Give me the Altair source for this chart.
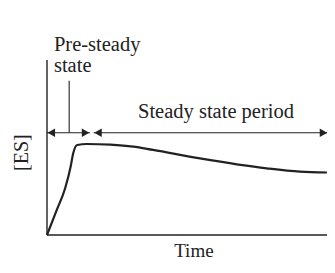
import altair as alt
import pandas as pd

# Curve values (time, [ES]), arbitrary units
time = [0, 3.4, 6.3, 8.2, 9.1, 10.5, 13.8, 22, 29.9, 36.8, 53.1, 76.3, 87.8, 97.2]
es = [0, 14.3, 26.7, 39, 46.7, 51.4, 52, 51.6, 50.5, 48.6, 43.8, 38.1, 36.2, 35.7]

# Line segments: axes, arrow shafts, pre-steady marker
seg_x1 = [0, 0, 0, 16.2, 7.7]
seg_x2 = [0, 100, 14.9, 97.5, 7.7]
seg_y1 = [0, 0, 58.4, 58.4, 58.4]
seg_y2 = [100, 0, 58.4, 58.4, 88.2]
seg_w = [1.4, 1.4, 1.1, 1.1, 1.1]

# Arrow heads (centres)
head_t = [1.5, 13.4, 17.7, 96.0]
head_y = [58.4, 58.4, 58.4, 58.4]
head_dir = ["l", "r", "l", "r"]

labels = ["Pre-steady", "state", "Steady state period"]
label_t = [2.4, 2.4, 31.6]
label_y = [105.3, 93.3, 66.9]

XDOM = [-13.54, 97.22]
YDOM = [-14.86, 129.7]
FONT = "Liberation Serif"

xs = alt.Scale(domain=XDOM, nice=False, zero=False)
ys = alt.Scale(domain=YDOM, nice=False, zero=False)

curve_df = pd.DataFrame({"ct": time, "ces": es})
curve = alt.Chart(curve_df).mark_line(color="#222", strokeWidth=2.2, interpolate="monotone").encode(
    x=alt.X("ct:Q", scale=xs, axis=None), y=alt.Y("ces:Q", scale=ys, axis=None))

seg_df = pd.DataFrame({"sx1": seg_x1, "sx2": seg_x2, "sy1": seg_y1, "sy2": seg_y2, "sw": seg_w})
segs = alt.Chart(seg_df).mark_rule(color="#222").encode(
    x=alt.X("sx1:Q", scale=xs, axis=None), x2="sx2:Q",
    y=alt.Y("sy1:Q", scale=ys, axis=None), y2="sy2:Q",
    strokeWidth=alt.StrokeWidth("sw:Q", scale=None))

head_df = pd.DataFrame({"ht": head_t, "hy": head_y, "hd": head_dir})
heads = alt.Chart(head_df).mark_point(filled=True, color="#222", size=75, opacity=1).encode(
    x=alt.X("ht:Q", scale=xs, axis=None), y=alt.Y("hy:Q", scale=ys, axis=None),
    shape=alt.Shape("hd:N", scale=alt.Scale(domain=["l", "r"], range=["triangle-left", "triangle-right"]), legend=None))

lab_df = pd.DataFrame({"lt": labels, "lx": label_t, "ly": label_y})
labs = alt.Chart(lab_df).mark_text(font=FONT, fontSize=20.5, align="left", baseline="alphabetic", color="#222").encode(
    x=alt.X("lx:Q", scale=xs, axis=None), y=alt.Y("ly:Q", scale=ys, axis=None), text="lt:N")

time_df = pd.DataFrame({"tt": ["Time"], "tx": [51], "ty": [-12.4]})
time_lab = alt.Chart(time_df).mark_text(font=FONT, fontSize=19, align="center", baseline="alphabetic", color="#222").encode(
    x=alt.X("tx:Q", scale=xs, axis=None), y=alt.Y("ty:Q", scale=ys, axis=None), text="tt:N")

es_df = pd.DataFrame({"et": ["[ES]"], "ex": [-8.8], "ey": [47.1]})
es_lab = alt.Chart(es_df).mark_text(font=FONT, fontSize=20, align="center", baseline="middle", angle=270, color="#222").encode(
    x=alt.X("ex:Q", scale=xs, axis=None), y=alt.Y("ey:Q", scale=ys, axis=None), text="et:N")

chart = alt.layer(segs, curve, heads, labs, time_lab, es_lab).properties(
    width=319, height=253, padding=0, background="white",
    autosize=alt.AutoSizeParams(type="none")
).configure_view(strokeWidth=0)

chart.save("out.html", embed_options={"renderer": "svg", "actions": False})
